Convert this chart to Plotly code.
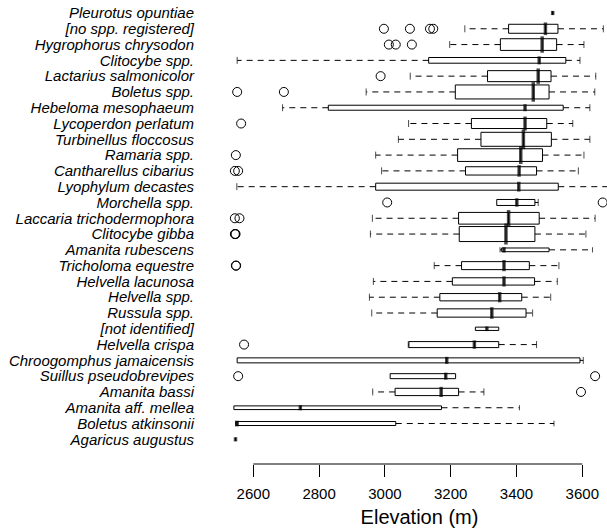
import plotly.graph_objects as go

# ---------------- data (top of chart to bottom) ----------------
species = [
    "Pleurotus opuntiae", "[no spp. registered]", "Hygrophorus chrysodon",
    "Clitocybe spp.", "Lactarius salmonicolor", "Boletus spp.",
    "Hebeloma mesophaeum", "Lycoperdon perlatum", "Turbinellus floccosus",
    "Ramaria spp.", "Cantharellus cibarius", "Lyophylum decastes",
    "Morchella spp.", "Laccaria trichodermophora", "Clitocybe gibba",
    "Amanita rubescens", "Tricholoma equestre", "Helvella lacunosa",
    "Helvella spp.", "Russula spp.", "[not identified]", "Helvella crispa",
    "Chroogomphus jamaicensis", "Suillus pseudobrevipes", "Amanita bassi",
    "Amanita aff. mellea", "Boletus atkinsonii", "Agaricus augustus",
]
whisker_low = [3510, 3243, 3197, 2551, 3077, 2943, 2689, 3072, 3041, 2972,
               2990, 2550, 3340, 2962, 2956, 3350, 3150, 2965, 2953, 2960,
               3275, 3071, 2551, 3016, 2963, 2541, 2546, 2546]
q1 = [3510, 3376, 3351, 3133, 3312, 3214, 2828, 3263, 3292, 3221,
      3245, 2972, 3340, 3224, 3226, 3355, 3233, 3205, 3167, 3159,
      3275, 3073, 2551, 3016, 3031, 2541, 2548, 2546]
median = [3510, 3488, 3478, 3469, 3466, 3451, 3426, 3426, 3421, 3413,
          3408, 3407, 3401, 3376, 3368, 3362, 3362, 3362, 3349, 3325,
          3310, 3272, 3188, 3185, 3171, 2743, 2551, 2546]
q3 = [3510, 3526, 3522, 3550, 3505, 3499, 3542, 3492, 3506, 3479,
      3461, 3527, 3456, 3469, 3456, 3499, 3439, 3455, 3416, 3429,
      3346, 3346, 3593, 3215, 3224, 3172, 3033, 2546]
whisker_high = [3510, 3664, 3605, 3593, 3641, 3638, 3623, 3571, 3623, 3605,
                3588, 3700, 3466, 3639, 3611, 3631, 3529, 3524, 3504, 3449,
                3346, 3461, 3603, 3215, 3301, 3409, 3514, 2546]
outliers = [
    [], [2997, 3076, 3137, 3147], [3012, 3033, 3082], [], [2987],
    [2551, 2693], [], [2563], [], [2547], [2544, 2554], [], [3007, 3662],
    [2544, 2558], [2544, 2545, 2546], [], [2547, 2548], [], [], [], [],
    [2572], [], [2554, 3639], [3596], [], [], [],
]
tick_vals = [2600, 2800, 3000, 3200, 3400, 3600]
x_title = "Elevation (m)"

# ---------------- style ----------------
box_thickness_px = [3, 9, 11.7, 5.7, 11, 14, 5, 10, 14, 12.7, 8.3, 7, 6, 11.7,
                    15, 3.7, 8, 7.3, 7.3, 8.3, 3.3, 6, 5, 5, 7.3, 3.7, 4, 3]
row_px = 15.79
FONT = "Liberation Sans, Arial, Helvetica, sans-serif"

fig = go.Figure()

for i, name in enumerate(species):
    fig.add_trace(go.Box(
        orientation="h", y=[name], q1=[q1[i]], median=[median[i]], q3=[q3[i]],
        lowerfence=[q1[i]], upperfence=[q3[i]],
        width=box_thickness_px[i] / row_px, whiskerwidth=0,
        fillcolor="white", line=dict(color="black", width=1),
        boxpoints=False, showlegend=False, hoverinfo="skip",
    ))

# dashed whiskers and their end caps
wx, wy = [], []
cx, cy, cs = [], [], []
for i, name in enumerate(species):
    if whisker_low[i] < q1[i]:
        wx += [q1[i], whisker_low[i], None]
        wy += [name, name, None]
        cx.append(whisker_low[i]); cy.append(name)
        cs.append(min(5, max(3, box_thickness_px[i])))
    if whisker_high[i] > q3[i]:
        wx += [q3[i], whisker_high[i], None]
        wy += [name, name, None]
        cx.append(whisker_high[i]); cy.append(name)
        cs.append(min(5, max(3, box_thickness_px[i])))
fig.add_trace(go.Scatter(
    x=wx, y=wy, mode="lines", line=dict(color="black", width=1, dash="6px,5px"),
    showlegend=False, hoverinfo="skip", connectgaps=False,
))
fig.add_trace(go.Scatter(
    x=cx, y=cy, mode="markers",
    marker=dict(symbol="line-ns", size=cs, line=dict(color="black", width=1)),
    showlegend=False, hoverinfo="skip", cliponaxis=False,
))

# thick medians
fig.add_trace(go.Scatter(
    x=median, y=species, mode="markers",
    marker=dict(symbol="line-ns", size=box_thickness_px,
                line=dict(color="black", width=3.5)),
    showlegend=False, hoverinfo="skip", cliponaxis=False,
))

# outliers
ox, oy = [], []
for i, name in enumerate(species):
    for v in outliers[i]:
        ox.append(v); oy.append(name)
fig.add_trace(go.Scatter(
    x=ox, y=oy, mode="markers",
    marker=dict(symbol="circle-open", size=9, color="black",
                line=dict(color="black", width=1)),
    showlegend=False, hoverinfo="skip", cliponaxis=False,
))

n = len(species)
fig.update_layout(
    width=607, height=531,
    margin=dict(l=232, r=0, t=0, b=67, pad=0),
    paper_bgcolor="white", plot_bgcolor="white",
    boxmode="overlay",
    font=dict(family=FONT, color="black"),
    xaxis=dict(
        range=[2535.3, 3675.1], tickvals=tick_vals,
        ticks="outside", ticklen=12, tickwidth=1, tickcolor="black",
        showline=False, showgrid=False, zeroline=False,
        tickfont=dict(size=15, family=FONT, color="black"),
        ticklabelstandoff=4,
        title=dict(text=x_title, font=dict(size=20, family=FONT, color="black"),
                   standoff=8),
        automargin=False,
    ),
    yaxis=dict(
        type="category", categoryorder="array", categoryarray=species[::-1],
        tickmode="linear", tick0=0, dtick=1,
        range=[-1.563, n - 1 + 0.823],
        showline=False, showgrid=False, zeroline=False, ticks="",
        tickfont=dict(size=15, family=FONT, color="black", style="italic"),
        ticklabelstandoff=37, automargin=False,
    ),
    shapes=[dict(type="line", xref="x", yref="paper",
                 x0=min(tick_vals), x1=max(tick_vals), y0=0, y1=0,
                 line=dict(color="black", width=1))],
)

# remove the default 8px page margin so the figure fills the window exactly
fig.write_html("out.html", config={"displayModeBar": False},
               post_script="document.body.style.margin='0';")
